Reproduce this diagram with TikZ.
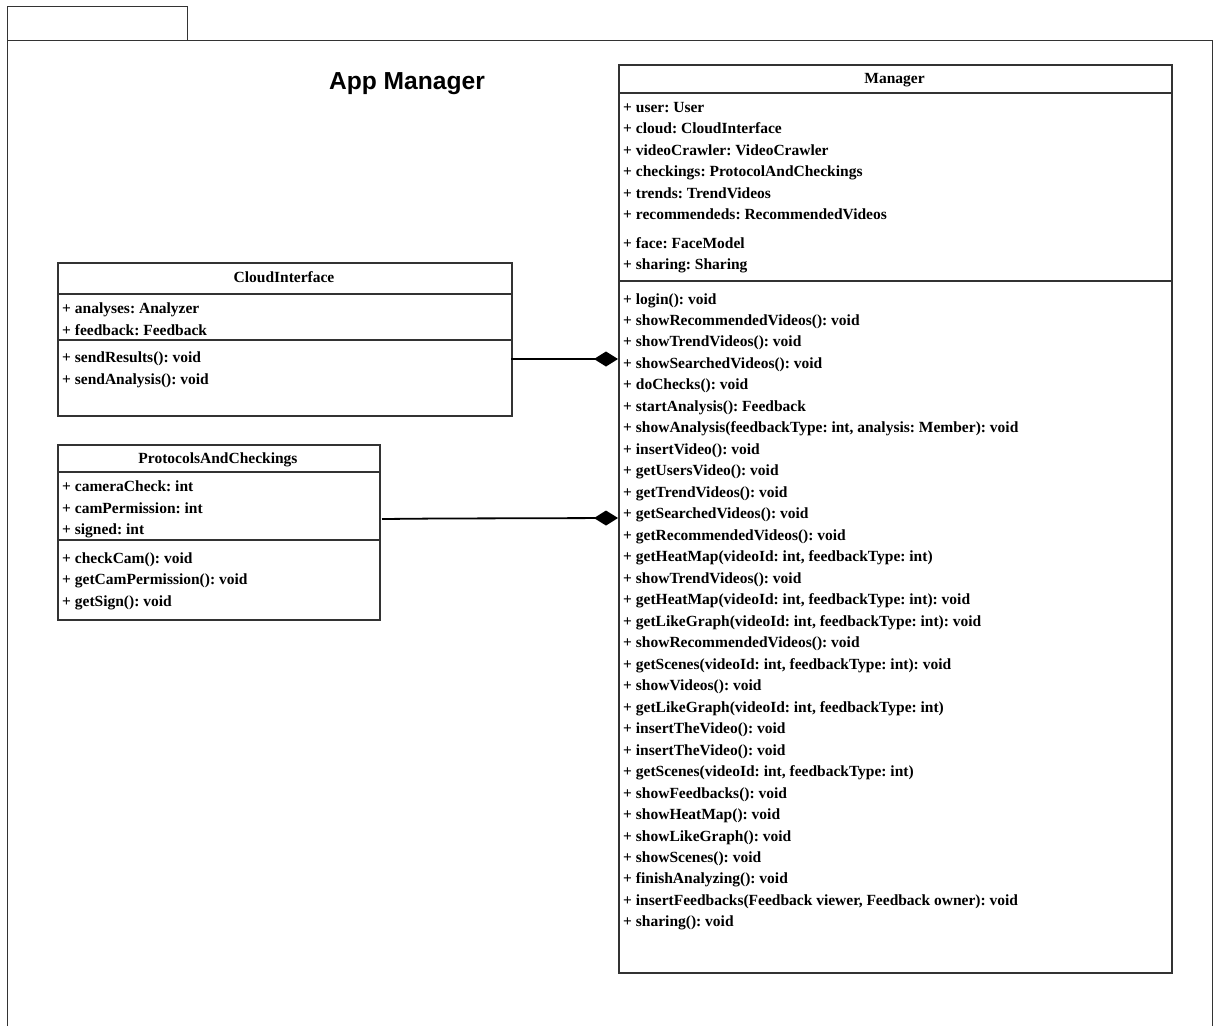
\documentclass[tikz,border=0pt]{standalone}
\usepackage{fontspec}
\setmainfont{Liberation Serif}
\newfontfamily\titlefont{Liberation Sans}
\usetikzlibrary{arrows.meta}
\definecolor{edge}{HTML}{333333}
\tikzset{
  classbox/.style={draw=edge, line width=1.8pt, anchor=north west, inner sep=0pt, fill=none},
  divline/.style={draw=edge, line width=1.8pt},
  member/.style={anchor=base west, inner sep=0pt, font=\fontsize{15.5}{15.5}\selectfont\bfseries\frenchspacing},
  header/.style={anchor=base, inner sep=0pt, font=\fontsize{15.5}{15.5}\selectfont\bfseries\frenchspacing},
  frameline/.style={draw=edge, line width=1pt},
  compo/.style={draw=black, line width=1.8pt, -{Diamond[length=24pt,width=15pt]}},
}
\begin{document}
\begin{tikzpicture}[x=1pt,y=-1pt]
\useasboundingbox (0,0) rectangle (1218,1026);
% package frame
\draw[frameline] (7,40) rectangle (187,6);
\draw[frameline] (7,1026) -- (7,40) -- (1212,40) -- (1212,1026);
\node[inner sep=0pt, anchor=base, font=\titlefont\fontsize{24.6}{24.6}\selectfont\bfseries] (title) at (407,89.5) {App Manager};

% Manager
\node[classbox, minimum width=553pt, minimum height=908pt] (mgr) at (618,64) {};
\draw[divline] (618,93) -- (1171,93);
\draw[divline] (618,281) -- (1171,281);
\node[header] (mgrh) at (894.5,83) {Manager};
\foreach \t [count=\i from 0] in {{+ user: User},{+ cloud: CloudInterface},{+ videoCrawler: VideoCrawler},{+ checkings: ProtocolAndCheckings},{+ trends: TrendVideos},{+ recommendeds: RecommendedVideos}}
  \node[member] (ma\i) at (623,{112+21.5*\i}) {\t};
\node[member] (ma6) at (623,248) {+ face: FaceModel};
\node[member] (ma7) at (623,269.5) {+ sharing: Sharing};
\foreach \t [count=\i from 0] in {
 {+ login(): void},
 {+ showRecommendedVideos(): void},
 {+ showTrendVideos(): void},
 {+ showSearchedVideos(): void},
 {+ doChecks(): void},
 {+ startAnalysis(): Feedback},
 {+ showAnalysis(feedbackType: int, analysis: Member): void},
 {+ insertVideo(): void},
 {+ getUsersVideo(): void},
 {+ getTrendVideos(): void},
 {+ getSearchedVideos(): void},
 {+ getRecommendedVideos(): void},
 {+ getHeatMap(videoId: int, feedbackType: int)},
 {+ showTrendVideos(): void},
 {+ getHeatMap(videoId: int, feedbackType: int): void},
 {+ getLikeGraph(videoId: int, feedbackType: int): void},
 {+ showRecommendedVideos(): void},
 {+ getScenes(videoId: int, feedbackType: int): void},
 {+ showVideos(): void},
 {+ getLikeGraph(videoId: int, feedbackType: int)},
 {+ insertTheVideo(): void},
 {+ insertTheVideo(): void},
 {+ getScenes(videoId: int, feedbackType: int)},
 {+ showFeedbacks(): void},
 {+ showHeatMap(): void},
 {+ showLikeGraph(): void},
 {+ showScenes(): void},
 {+ finishAnalyzing(): void},
 {+ insertFeedbacks(Feedback viewer, Feedback owner): void},
 {+ sharing(): void}}
  \node[member] (mm\i) at (623,{304+21.48*\i}) {\t};

% CloudInterface
\node[classbox, minimum width=454pt, minimum height=153pt] (cloud) at (57,262) {};
\draw[divline] (57,294) -- (511,294);
\draw[divline] (57,340) -- (511,340);
\node[header] (cloudh) at (284,282) {CloudInterface};
\node[member] (ca0) at (62,313) {+ analyses: Analyzer};
\node[member] (ca1) at (62,335) {+ feedback: Feedback};
\node[member] (cm0) at (62,362) {+ sendResults(): void};
\node[member] (cm1) at (62,384) {+ sendAnalysis(): void};

% ProtocolsAndCheckings
\node[classbox, minimum width=322pt, minimum height=175pt] (prot) at (57,444) {};
\draw[divline] (57,472) -- (379,472);
\draw[divline] (57,540) -- (379,540);
\node[header] (proth) at (218,463) {ProtocolsAndCheckings};
\node[member] (pa0) at (62,491) {+ cameraCheck: int};
\node[member] (pa1) at (62,513) {+ camPermission: int};
\node[member] (pa2) at (62,534) {+ signed: int};
\node[member] (pm0) at (62,563) {+ checkCam(): void};
\node[member] (pm1) at (62,584) {+ getCamPermission(): void};
\node[member] (pm2) at (62,606) {+ getSign(): void};

% connectors
\coordinate (c1s) at (511,359);
\coordinate (c1e) at (618,359);
\coordinate (c2s) at (382,519);
\coordinate (c2m) at (438,518.5);
\coordinate (c2e) at (618,518);
\draw[compo] (c1s) -- (c1e);
\draw[compo] (c2s) -- (c2m) -- (c2e);
\end{tikzpicture}
\end{document}
